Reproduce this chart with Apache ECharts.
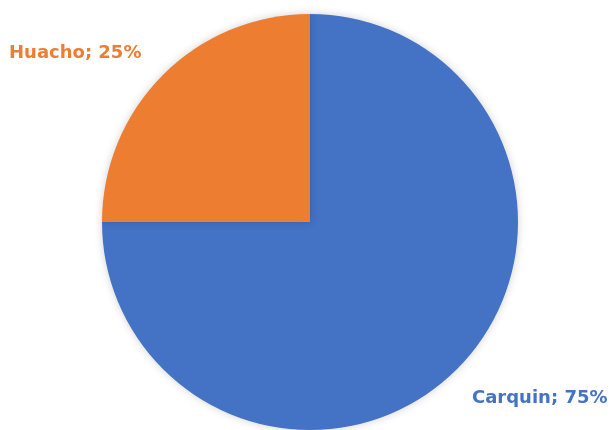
<!DOCTYPE html>
<html>
<head>
<meta charset="utf-8">
<script src="https://cdn.jsdelivr.net/npm/echarts@6/dist/echarts.min.js"></script>
<style>
  html, body { margin: 0; padding: 0; background: #ffffff; }
  #chart { width: 614px; height: 430px; }
</style>
</head>
<body>
<div id="chart"></div>
<script>
// Share of samples by locality
const categories = ['Carquin', 'Huacho'];
const shares = [75, 25];
const sliceColors = ['#4472C4', '#ED7D31'];

// Where each slice label sits on the canvas (left edge, vertical middle)
const labelSpots = {
  Carquin: { x: 472, y: 398 },
  Huacho: { x: 9, y: 53 }
};

const chart = echarts.init(document.getElementById('chart'), null, { renderer: 'canvas' });

chart.setOption({
  backgroundColor: '#ffffff',
  animation: false,
  series: [{
    type: 'pie',
    center: [310, 222],
    radius: 208,
    startAngle: 90,
    clockwise: true,
    avoidLabelOverlap: false,
    data: categories.map((name, i) => ({
      name: name,
      value: shares[i],
      itemStyle: { color: sliceColors[i] },
      label: { color: sliceColors[i] }
    })),
    itemStyle: {
      borderWidth: 0,
      shadowBlur: 8,
      shadowColor: 'rgba(0, 0, 0, 0.18)'
    },
    label: {
      show: true,
      position: 'outside',
      formatter: p => p.name + '; ' + p.value + '%',
      fontFamily: 'DejaVu Sans',
      fontWeight: 'bold',
      fontSize: 18,
      letterSpacing: 0.3,
      overflow: 'none',
      width: 200
    },
    labelLine: { show: false },
    labelLayout: function (params) {
      const name = categories[params.dataIndex];
      const spot = labelSpots[name];
      return { x: spot.x, y: spot.y, align: 'left', verticalAlign: 'middle', width: 200 };
    },
    emphasis: { disabled: true }
  }]
});
</script>
</body>
</html>
